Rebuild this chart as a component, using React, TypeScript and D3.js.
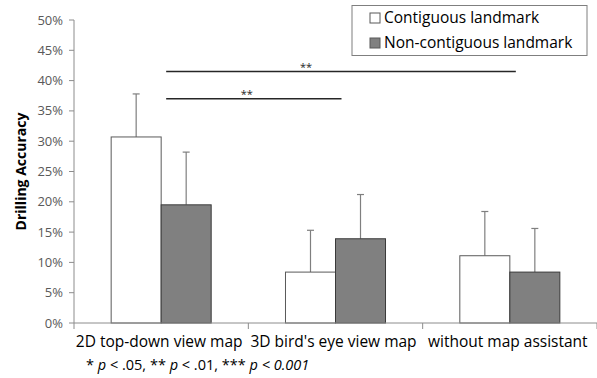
import React from "react";
import * as d3 from "d3";

const categories = ["2D top-down view map", "3D bird's eye view map", "without map assistant"];
const seriesNames = ["Contiguous landmark", "Non-contiguous landmark"];
const contiguous = [0.307, 0.084, 0.111];
const contiguousErr = [0.071, 0.069, 0.073];
const nonContiguous = [0.195, 0.139, 0.084];
const nonContiguousErr = [0.087, 0.073, 0.072];
const yTicks = [0, 0.05, 0.1, 0.15, 0.2, 0.25, 0.3, 0.35, 0.4, 0.45, 0.5];
const sigLines = [
  { from: 0, to: 2, y: 0.415, label: "**", labelPos: 0.4 },
  { from: 0, to: 1, y: 0.37, label: "**", labelPos: 0.46 },
];

const W = 597, H = 378;
const M = { left: 74, right: 0, top: 20, bottom: 55 };
const FONT = "'Open Sans', 'Noto Sans', sans-serif";

export default function App() {
  const y = d3.scaleLinear().domain([0, 0.5]).range([H - M.bottom, M.top]);
  const x = d3.scaleBand().domain(categories).range([M.left, W - M.right]).paddingInner(0).paddingOuter(0);
  const sub = d3.scaleBand().domain(seriesNames).range([0, x.bandwidth()]).paddingInner(0).paddingOuter(0.743);
  const fills = ["#ffffff", "#808080"];
  const strokes = ["#5a5a5a", "#3a3a3a"];
  const vals = [contiguous, nonContiguous];
  const errs = [contiguousErr, nonContiguousErr];
  const y0 = y(0);
  const axisColor = "#8c8c8c";
  const catEdges = [...categories.map((c) => x(c)!), x.range()[1]];

  return (
    <svg width={W} height={H} style={{ position: "absolute", left: 0, top: 0, background: "#fff" }} fontFamily={FONT}>
      {/* y axis */}
      <line x1={M.left} x2={M.left} y1={y(0.5)} y2={y0} stroke={axisColor} />
      {yTicks.map((t) => (
        <g key={t}>
          <line x1={M.left - 5} x2={M.left} y1={y(t)} y2={y(t)} stroke={axisColor} />
          <text x={M.left - 11} y={y(t)} dy="0.35em" textAnchor="end" fontSize={13} fill="#595959">
            {d3.format(".0%")(t)}
          </text>
        </g>
      ))}
      <text
        transform={`translate(21,${(y(0.5) + y0) / 2}) rotate(-90)`}
        textAnchor="middle"
        dy="0.35em"
        fontSize={14}
        fontWeight="bold"
        fill="#000"
      >
        Drilling Accuracy
      </text>
      {/* bars */}
      {categories.map((c, i) =>
        seriesNames.map((s, j) => {
          const bx = x(c)! + sub(s)!;
          const v = vals[j][i];
          const e = errs[j][i];
          const cx = bx + sub.bandwidth() / 2;
          return (
            <g key={c + s}>
              <line x1={cx} x2={cx} y1={y(v)} y2={y(v + e)} stroke="#7f7f7f" strokeWidth={1.2} />
              <line x1={cx - 3.5} x2={cx + 3.5} y1={y(v + e)} y2={y(v + e)} stroke="#7f7f7f" strokeWidth={1.2} />
              <rect x={bx} y={y(v)} width={sub.bandwidth()} height={y0 - y(v)} fill={fills[j]} stroke={strokes[j]} strokeWidth={1} />
            </g>
          );
        })
      )}
      {/* x axis */}
      <line x1={M.left} x2={W} y1={y0} y2={y0} stroke={axisColor} />
      {catEdges.map((e, i) => (
        <line key={i} x1={e} x2={e} y1={y0} y2={y0 + 6} stroke={axisColor} />
      ))}
      {categories.map((c) => (
        <text key={c} x={x(c)! + x.bandwidth() / 2 - 2} y={347} textAnchor="middle" fontSize={15.5} fill="#000">
          {c}
        </text>
      ))}
      <text x={86} y={370} fontSize={14.5} fill="#000">
        {"* "}
        <tspan fontStyle="italic">p</tspan>
        {" < .05, ** "}
        <tspan fontStyle="italic">p</tspan>
        {" < .01, *** "}
        <tspan fontStyle="italic">p &lt; 0.001</tspan>
      </text>
      {/* significance lines */}
      {sigLines.map((sl, k) => {
        const x1 = x(categories[sl.from])! + sub("Non-contiguous landmark")! + 5;
        const x2 = x(categories[sl.to])! + sub("Non-contiguous landmark")! + 6;
        return (
          <g key={k}>
            <line x1={x1} x2={x2} y1={y(sl.y)} y2={y(sl.y)} stroke="#262626" strokeWidth={1.5} />
            <text x={x1 + (x2 - x1) * sl.labelPos} y={y(sl.y) - 1} textAnchor="middle" fontSize={11} fill="#262626">
              {sl.label}
            </text>
          </g>
        );
      })}
      {/* legend */}
      <rect x={352} y={5.5} width={235} height={50} fill="#fff" stroke="#7f7f7f" />
      {seriesNames.map((s, j) => (
        <g key={s} transform={`translate(370,${18 + j * 25})`}>
          <rect x={0} y={-5} width={10} height={10} fill={fills[j]} stroke="#595959" />
          <text x={14} y={0} dy="0.35em" fontSize={15.5} fill="#000">
            {s}
          </text>
        </g>
      ))}
    </svg>
  );
}
